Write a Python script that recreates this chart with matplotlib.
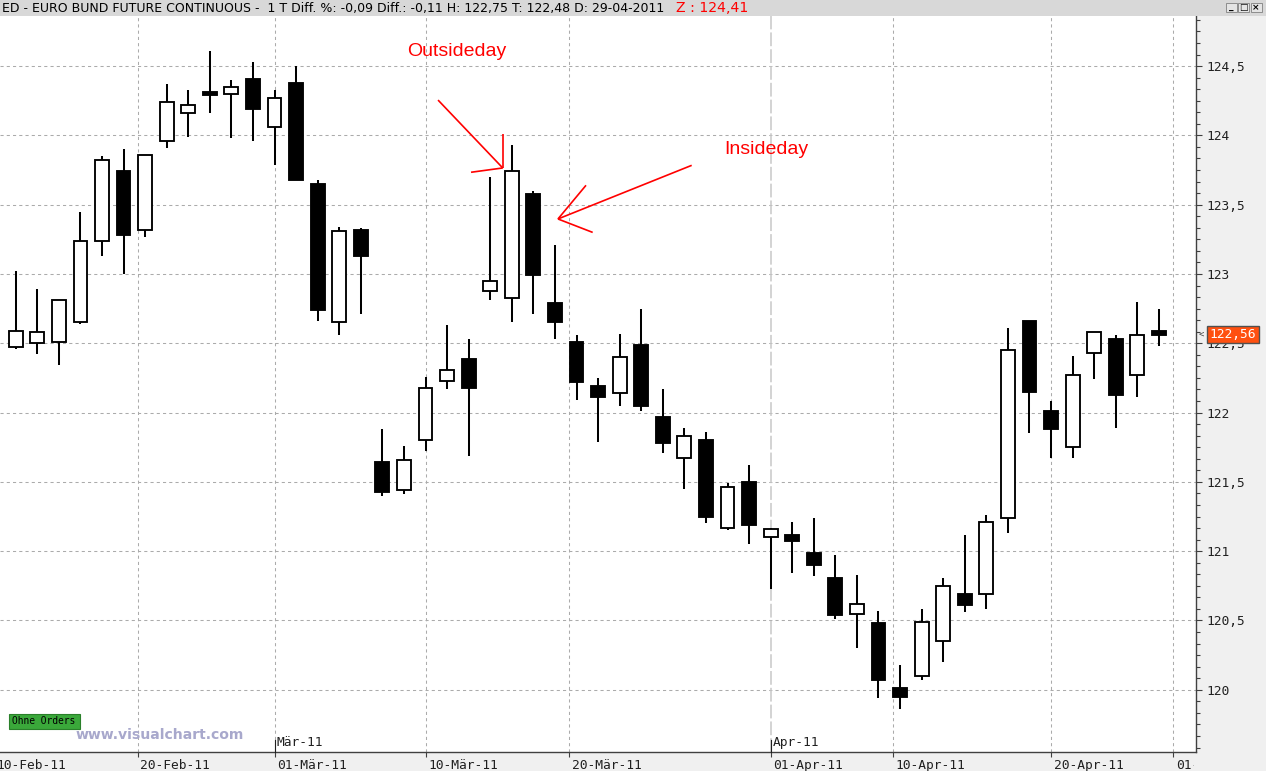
import matplotlib
matplotlib.use("Agg")
import matplotlib.pyplot as plt
import matplotlib.font_manager as fm
from matplotlib.patches import Rectangle
from matplotlib.ticker import MultipleLocator
from matplotlib.transforms import (blended_transform_factory, IdentityTransform,
                                   Bbox, TransformedBbox, ScaledTranslation)
import numpy as np
import pandas as pd

# ---------------- data ----------------
dates = ["2011-02-11", "2011-02-14", "2011-02-15", "2011-02-16", "2011-02-17", "2011-02-18",
         "2011-02-21", "2011-02-22", "2011-02-23", "2011-02-24", "2011-02-25", "2011-02-28",
         "2011-03-01", "2011-03-02", "2011-03-03", "2011-03-04", "2011-03-07", "2011-03-08",
         "2011-03-09", "2011-03-10", "2011-03-11", "2011-03-14", "2011-03-15", "2011-03-16",
         "2011-03-17", "2011-03-18", "2011-03-21", "2011-03-22", "2011-03-23", "2011-03-24",
         "2011-03-25", "2011-03-28", "2011-03-29", "2011-03-30", "2011-03-31", "2011-04-01",
         "2011-04-04", "2011-04-05", "2011-04-06", "2011-04-07", "2011-04-08", "2011-04-11",
         "2011-04-12", "2011-04-13", "2011-04-14", "2011-04-15", "2011-04-18", "2011-04-19",
         "2011-04-20", "2011-04-21", "2011-04-26", "2011-04-27", "2011-04-28", "2011-04-29"]

opens = [122.47, 122.50, 122.51, 122.65, 123.24, 123.74, 123.32, 123.96, 124.16, 124.31,
         124.30, 124.41, 124.06, 124.38, 123.65, 122.65, 123.32, 121.64, 121.44, 121.80,
         122.23, 122.39, 122.88, 122.83, 123.58, 122.79, 122.51, 122.19, 122.14, 122.49,
         121.97, 121.67, 121.80, 121.17, 121.50, 121.10, 121.12, 120.99, 120.81, 120.55,
         120.48, 120.01, 120.10, 120.35, 120.69, 120.69, 121.24, 122.66, 122.01, 121.75,
         122.43, 122.53, 122.27, 122.59]
highs = [123.02, 122.89, 122.81, 123.45, 123.85, 123.90, 123.86, 124.37, 124.33, 124.61,
         124.40, 124.53, 124.33, 124.50, 123.68, 123.34, 123.33, 121.88, 121.76, 122.26,
         122.63, 122.53, 123.70, 123.93, 123.60, 123.21, 122.56, 122.25, 122.57, 122.75,
         122.17, 121.89, 121.86, 121.49, 121.62, 121.17, 121.21, 121.24, 120.97, 120.83,
         120.57, 120.18, 120.58, 120.81, 121.12, 121.26, 122.61, 122.66, 122.08, 122.41,
         122.58, 122.56, 122.80, 122.75]
lows = [122.46, 122.42, 122.34, 122.64, 123.13, 123.00, 123.27, 123.91, 123.99, 124.16,
        123.98, 123.96, 123.79, 123.68, 122.66, 122.56, 122.71, 121.40, 121.41, 121.72,
        122.17, 121.69, 122.81, 122.65, 122.71, 122.53, 122.09, 121.79, 122.05, 122.01,
        121.71, 121.45, 121.20, 121.15, 121.05, 120.73, 120.84, 120.82, 120.51, 120.30,
        119.94, 119.86, 120.07, 120.20, 120.56, 120.58, 121.13, 121.85, 121.67, 121.67,
        122.24, 121.89, 122.11, 122.48]
closes = [122.59, 122.58, 122.81, 123.24, 123.82, 123.28, 123.86, 124.24, 124.22, 124.29,
          124.35, 124.19, 124.27, 123.68, 122.74, 123.31, 123.13, 121.43, 121.66, 122.18,
          122.31, 122.18, 122.95, 123.74, 122.99, 122.65, 122.22, 122.11, 122.40, 122.05,
          121.78, 121.83, 121.25, 121.46, 121.19, 121.16, 121.07, 120.90, 120.54, 120.62,
          120.07, 119.95, 120.49, 120.75, 120.61, 121.21, 122.45, 122.15, 121.88, 122.27,
          122.58, 122.13, 122.56, 122.56]

tick_dates = ["2011-02-10", "2011-02-20", "2011-03-01", "2011-03-10", "2011-03-20",
              "2011-04-01", "2011-04-10", "2011-04-20", "2011-05-01"]
tick_labels = ["10-Feb-11", "20-Feb-11", "01-Mär-11", "10-Mär-11", "20-Mär-11",
               "01-Apr-11", "10-Apr-11", "20-Apr-11", "01-Mai-11"]
month_dates = ["2011-03-01", "2011-04-01"]
month_labels = ["Mär-11", "Apr-11"]
y_ticks = [120.0, 120.5, 121.0, 121.5, 122.0, 122.5, 123.0, 123.5, 124.0, 124.5]
last_price = 122.56

header_text = ("ED - EURO BUND FUTURE CONTINUOUS -  1 T Diff. %: -0,09 Diff.: -0,11 "
               "H: 122,75 T: 122,48 D: 29-04-2011")
header_z = "Z : 124,41"

# ---------------- setup ----------------
W, H = 1266, 771
MONO = "DejaVu Sans Mono"
names = {f.name for f in fm.fontManager.ttflist}
ARIAL = "Liberation Sans" if "Liberation Sans" in names else "DejaVu Sans"

plt.rcParams["font.family"] = [MONO, "DejaVu Sans"]

fig = plt.figure(figsize=(W / 100, H / 100), dpi=100, facecolor="#f0f0f0")

AX_L, AX_R, AX_T, AX_B = 0, 1196, 16, 752
ax = fig.add_axes([AX_L / W, (H - AX_B) / H, (AX_R - AX_L) / W, (AX_B - AX_T) / H])
ax.set_facecolor("white")

x = np.arange(len(dates))

trade = pd.to_datetime(dates)
ext = pd.DatetimeIndex([pd.Timestamp("2011-02-10")]).append(trade).append(
    pd.DatetimeIndex([pd.Timestamp("2011-05-02")]))
ext_idx = np.arange(-1, len(trade) + 1)


def date_pos(d):
    d = pd.Timestamp(d)
    k = ext.searchsorted(d, side="right") - 1
    if ext[k] == d:
        return float(ext_idx[k])
    frac = (d - ext[k]).days / (ext[k + 1] - ext[k]).days
    return ext_idx[k] + frac


# ---------------- grid ----------------
GRID = "#ababab"
for v in y_ticks:
    ax.axhline(v, color=GRID, lw=0.75, ls=(0, (3, 3)), zorder=0.5)
for d in tick_dates[1:]:
    p = date_pos(d)
    if d == "2011-04-01":
        ax.axvline(p, color="#c8c8c8", lw=1.1, ls=(0, (9, 2)), zorder=0.5)
    else:
        ax.axvline(p, color=GRID, lw=0.75, ls=(0, (3, 3)), zorder=0.5)

# ---------------- candles ----------------
o = np.array(opens); c = np.array(closes); hi = np.array(highs); lo = np.array(lows)
ax.vlines(x, lo, hi, color="black", lw=1.45, zorder=2)
fill = ["white" if cc >= oo else "black" for oo, cc in zip(o, c)]
ax.bar(x, np.abs(c - o), bottom=np.minimum(o, c), width=0.64, color=fill,
       edgecolor="black", linewidth=1.35, zorder=3)

# ---------------- axes styling ----------------
for s in ["left", "top"]:
    ax.spines[s].set_visible(False)
for s in ["right", "bottom"]:
    ax.spines[s].set_color("#404040")
    ax.spines[s].set_linewidth(1.0)

ax.yaxis.tick_right()
ax.set_yticks(y_ticks)
ax.set_yticklabels([f"{v:g}".replace(".", ",") for v in y_ticks])
ax.yaxis.set_minor_locator(MultipleLocator(0.5 / 6))
ax.tick_params(axis="y", which="major", direction="out", length=4.2, width=0.8,
               color="#404040", pad=3.6, labelsize=9.3, labelcolor="#202020")
ax.tick_params(axis="y", which="minor", direction="out", length=2.9, width=0.8,
               color="#404040")

xt = [date_pos(d) for d in tick_dates]
ax.set_xticks(xt)
ax.set_xticklabels(tick_labels)
TICK_LEN, TICK_PAD = 3.6, 1.2
ax.tick_params(axis="x", which="major", direction="out", length=TICK_LEN, width=0.8,
               color="#404040", pad=TICK_PAD, labelsize=9.3, labelcolor="#202020")

# limits set after the ticks (set_xticks would widen them otherwise)
ax.set_xlim(-0.728, 54.72)
ax.set_ylim(119.551, 124.8615)

shift = ScaledTranslation(2.5 / 100, 0, fig.dpi_scale_trans)
clip_bb = TransformedBbox(Bbox([[-50, 0], [1194, H]]), IdentityTransform())
for lbl in ax.get_xticklabels():
    lbl.set_horizontalalignment("left")
    lbl.set_transform(lbl.get_transform() + shift)
    lbl.set_clip_box(clip_bb)
    lbl.set_clip_on(True)

bt = blended_transform_factory(ax.transData, ax.transAxes)
# the first date label sits left of the view (its tick is outside), draw it cut at the edge
ax.annotate(tick_labels[0], xy=(xt[0], 0), xycoords=bt,
            xytext=(2.5 * 0.72, -(TICK_LEN + TICK_PAD)), textcoords="offset points",
            ha="left", va="top", fontsize=9.3, color="#202020", annotation_clip=False)

# month labels above the axis
for d, m in zip(month_dates, month_labels):
    p = date_pos(d)
    ax.plot([p, p], [0, 12 / 736], transform=bt, color="#202020", lw=0.8,
            clip_on=False, zorder=4)
    ax.annotate(m, xy=(p, 0), xycoords=bt, xytext=(1.6, 6.6), textcoords="offset points",
                va="center", ha="left", fontsize=9.3, color="#202020", zorder=4)

# last price marker
pt = blended_transform_factory(IdentityTransform(), ax.transData)
ypix = ax.transData.transform((0, last_price))[1]
ax.add_patch(Rectangle((1207, ypix - 8.5), 52, 17, transform=IdentityTransform(),
                       facecolor="#ff5010", edgecolor="#505050", lw=1.0,
                       clip_on=False, zorder=10))
ax.text(1233, last_price, f"{last_price:.2f}".replace(".", ","), transform=pt,
        ha="center", va="center", color="white", fontsize=9.3, clip_on=False, zorder=11)
ax.text(1201.5, last_price, "<", transform=pt, ha="center", va="center",
        color="#404040", fontsize=6.5, clip_on=False, zorder=11)

# ---------------- annotations ----------------
RED = "#ff0000"
ax.text(18.14, 124.573, "Outsideday", color=RED, fontsize=14, family=ARIAL,
        ha="left", va="baseline", zorder=6)
ax.text(32.84, 123.866, "Insideday", color=RED, fontsize=14, family=ARIAL,
        ha="left", va="baseline", zorder=6)
arrow_kw = dict(color=RED, lw=1.2, zorder=6, solid_capstyle="butt")
ax.plot([19.58, 22.58], [124.255, 123.765], **arrow_kw)
ax.plot([21.11, 22.58], [123.734, 123.765], **arrow_kw)
ax.plot([22.58, 22.58], [124.01, 123.765], **arrow_kw)
ax.plot([31.34, 25.14], [123.784, 123.397], **arrow_kw)
ax.plot([26.44, 25.14], [123.64, 123.397], **arrow_kw)
ax.plot([26.75, 25.14], [123.30, 123.397], **arrow_kw)


# ---------------- figure decorations ----------------
def fx(px):
    return px / W


def fy(py):
    return 1 - py / H


fig.add_artist(Rectangle((0, fy(16)), 1, 16 / H, transform=fig.transFigure,
                         facecolor="#d8d8d8", edgecolor="none", zorder=1))

renderer = fig.canvas.get_renderer()


def fit(t, target):
    w = t.get_window_extent(renderer).width
    t.set_fontsize(t.get_fontsize() * target / w)


t1 = fig.text(fx(2), fy(8.5), header_text, family="DejaVu Sans", fontsize=9,
              color="black", ha="left", va="center", zorder=5)
fit(t1, 664)
t2 = fig.text(fx(676), fy(8.5), header_z, family="DejaVu Sans",
              fontsize=t1.get_fontsize() * 1.12, color="#ff0000",
              ha="left", va="center", zorder=5)

# window buttons
for bx, glyph in [(1226, "_"), (1238, "□"), (1250.5, "×")]:
    fig.add_artist(Rectangle((fx(bx), fy(12)), 11 / W, 9 / H, transform=fig.transFigure,
                             facecolor="#e4e4e4", edgecolor="#808080", lw=0.6, zorder=5))
    fig.text(fx(bx + 5.5), fy(7.3), glyph, family="DejaVu Sans", fontsize=6.5,
             fontweight="bold", ha="center", va="center", color="black", zorder=6)

# "Ohne Orders" label
fig.add_artist(Rectangle((fx(9), fy(729)), 71 / W, 15 / H, transform=fig.transFigure,
                         facecolor="#3aa83a", edgecolor="#2a802a", lw=0.8, zorder=5))
t3 = fig.text(fx(12), fy(721.5), "Ohne Orders", fontsize=7, color="black",
              ha="left", va="center", zorder=6)
fit(t3, 64)

# watermark
t4 = fig.text(fx(76), fy(735), "www.visualchart.com", family="DejaVu Sans",
              fontweight="bold", fontsize=10, color="#a8a8cc", ha="left", va="center",
              zorder=6)
fit(t4, 169)

fig.savefig("out.png", dpi=100, facecolor=fig.get_facecolor())
